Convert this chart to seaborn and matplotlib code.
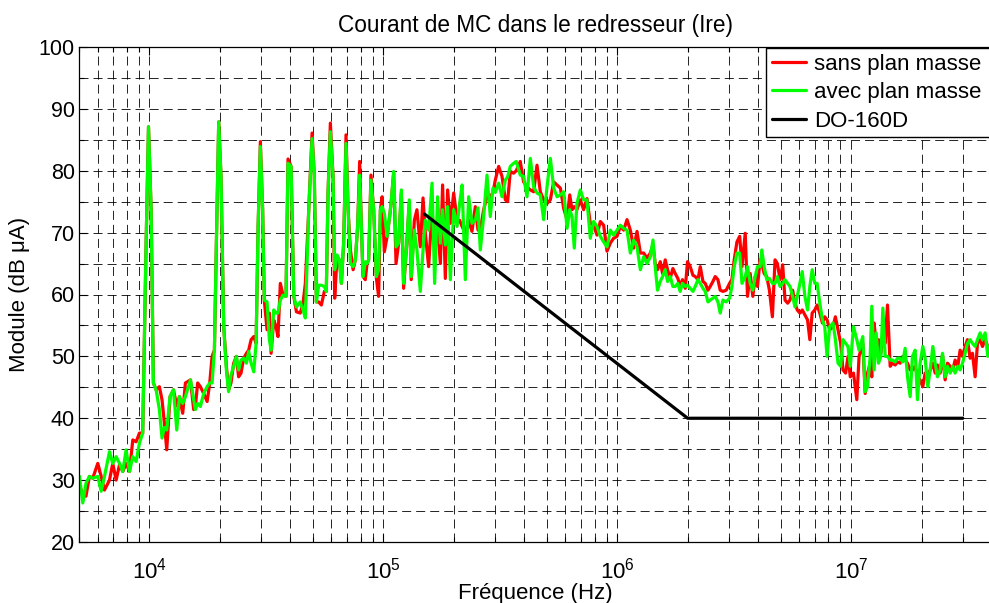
import numpy as np
import pandas as pd
import matplotlib
matplotlib.use("Agg")
import matplotlib.pyplot as plt
import seaborn as sns
from matplotlib.ticker import MultipleLocator, LogLocator, NullFormatter

# ---------------- data ----------------
freq_hz = [
    5024, 5190, 5355, 5540, 5725, 6015, 6220, 6425, 6750, 6970,
    7205, 7450, 7695, 7950, 8220, 8490, 8775, 9065, 9360, 9680,
    9910, 10170, 10400, 10680, 11030, 11320, 11590, 11860, 12250, 12670,
    13090, 13430, 13880, 14250,
    14980, 15460, 15730, 16080, 16510, 17060, 17650, 18110, 18530, 18960,
    19330, 19780, 20230, 20780, 21330, 21800, 22320, 22920, 23530, 24060,
    24640, 25290, 25990, 26570, 27210, 27930, 28580, 29150, 29810, 30480,
    30980, 31830, 32570, 33130, 33990, 34770, 35450, 36280, 37250, 38360,
    39130, 40330, 41410, 42520,
    44130, 45370, 46410, 47990, 49590, 50700, 51730, 52930, 54340, 55950,
    57040, 58020, 59370, 60950, 61940, 63420, 64880, 66180, 67660, 69260,
    70690, 72310, 74270, 75930, 77640, 79210, 80560, 81880, 83740, 85170,
    86540, 88540, 90920, 93410, 95470, 97140, 98790, 101000, 103800, 106400,
    107900, 110700, 113300, 116300, 119400, 122100, 125400, 129100,
    131600, 135700, 139200, 143900, 147800, 151100, 156200, 161500, 165700, 170600,
    175300, 179200, 184100, 188300, 193400, 199900, 206600, 211900, 217100, 224100,
    231600, 239300, 247300, 253900, 259800, 268400, 277400, 286600, 294300, 301100,
    311200, 321600, 332300, 339900, 348900, 360600, 369900,
    384900, 397900, 411300, 425000, 439100, 453800, 469000, 484600, 500900, 517600,
    534900, 552800, 571200, 590300, 610100, 626300, 640600, 655000, 672400, 695000,
    718100, 742100, 766900, 792500, 819000, 846400, 874700, 903900, 934100, 965200,
    997600, 1030900, 1065300, 1100900,
    1137600, 1175600, 1214800, 1255300, 1297200, 1340400, 1385100, 1421700, 1453000, 1486400,
    1527000, 1562000, 1604000, 1641000, 1684000, 1729000, 1769000, 1816000, 1857000, 1900000,
    1953000, 1997000, 2051000, 2107000, 2155000, 2213000, 2264000, 2325000, 2377000, 2442000,
    2497000, 2564000, 2623000, 2694000, 2755000, 2830000, 2923000, 3021000, 3091000, 3162000,
    3248000, 3337000, 3414000,
    3524000, 3605000, 3700000, 3798000, 3886000, 3976000, 4081000, 4149000, 4245000, 4357000,
    4472000, 4605000, 4727000, 4837000, 4965000, 5096000, 5214000, 5351000, 5476000, 5621000,
    5750000, 5883000, 6038000, 6178000, 6341000, 6508000, 6658000, 6812000, 6991000, 7153000,
    7341000, 7535000, 7709000, 7887000, 8095000, 8367000, 8561000, 8787000, 9019000, 9228000,
    9471000, 9690000, 9914000, 10230000, 10570000, 10810000,
    11210000, 11480000, 11750000, 12060000, 12250000, 12530000, 12790000, 13090000, 13400000, 13660000,
    13970000, 14300000, 14680000, 15020000, 15420000, 15780000, 16190000, 16620000, 17010000, 17410000,
    17870000, 18280000, 18770000, 19200000, 19710000, 20240000, 20710000, 21260000, 21760000, 22340000,
    22860000, 23390000, 24010000, 24570000, 25220000, 25810000, 26490000, 27190000, 27820000, 28560000,
    29230000, 29910000, 30700000, 31410000, 32250000, 33000000, 33880000, 34670000, 35590000, 36420000,
    37390000, 38380000, 40000000,
]

sans_plan_masse = [
    29.0, 27.9, 27.4, 30.6, 30.3, 32.7, 30.6, 28.4, 30.0, 32.7,
    30.0, 32.5, 31.4, 32.7, 31.4, 36.5, 36.2, 37.6, 37.6, 68.3,
    87.1, 73.7, 45.7, 44.6, 45.1, 43.0, 39.2, 34.9, 43.5, 44.6,
    42.0, 43.5, 40.8, 45.7,
    46.2, 41.4, 42.0, 45.7, 45.1, 44.0, 42.7, 45.7, 50.0, 51.0,
    68.3, 87.9, 79.1, 54.8, 48.4, 44.6, 45.7, 48.9, 50.0, 46.7,
    47.3, 49.7, 50.5, 51.0, 52.7, 53.2, 52.1, 71.0, 84.7, 73.7,
    59.1, 54.3, 57.0, 50.5, 55.9, 54.8, 53.2, 61.8, 59.9, 59.7,
    81.9, 80.7, 59.7, 57.2,
    57.0, 58.6, 61.8, 73.7, 86.1, 79.1, 58.8, 58.8, 58.3, 60.5,
    60.5, 76.4, 87.7, 79.1, 59.4, 66.1, 65.6, 61.8, 68.3, 85.8,
    73.7, 67.2, 64.0, 65.6, 71.0, 81.5, 71.0, 62.9, 62.4, 65.0,
    65.6, 79.3, 73.7, 62.6, 59.7, 73.7, 75.8, 66.9, 69.4, 72.6,
    74.7, 79.6, 65.0, 68.3, 76.4, 61.0, 67.2, 74.7,
    62.4, 72.0, 73.7, 67.7, 75.6, 70.0, 64.5, 73.7, 68.0, 71.0,
    65.0, 77.7, 62.6, 76.9, 71.5, 76.4, 72.0, 72.0, 71.0, 69.9,
    72.0, 70.2, 74.2, 70.4, 70.4, 73.7, 75.8, 75.8, 76.5, 78.5,
    80.7, 79.1, 75.3, 75.0, 79.9, 79.6, 80.0,
    81.5, 78.2, 77.4, 76.9, 76.6, 80.9, 76.6, 75.3, 74.7, 75.3,
    78.2, 77.7, 77.2, 73.9, 72.1, 76.1, 73.7, 74.2, 73.7, 75.3,
    73.7, 75.5, 71.5, 71.2, 69.6, 71.8, 71.2, 67.0, 68.3, 69.1,
    69.4, 71.0, 70.4, 72.1,
    70.4, 67.5, 70.2, 66.7, 66.7, 65.9, 66.7, 68.0, 65.0, 64.0,
    65.3, 63.4, 65.6, 64.0, 62.6, 64.2, 63.4, 62.6, 61.3, 62.4,
    61.0, 65.3, 64.5, 63.1, 62.9, 62.4, 64.5, 62.1, 61.8, 60.7,
    61.3, 62.1, 62.9, 62.4, 60.7, 60.5, 60.7, 61.8, 62.4, 65.6,
    68.5, 69.4, 64.5,
    69.9, 59.7, 63.4, 59.7, 62.9, 61.3, 65.6, 65.0, 63.4, 62.9,
    60.7, 56.4, 65.6, 65.0, 62.4, 64.8, 59.1, 58.6, 59.1, 60.7,
    58.6, 57.5, 57.0, 57.5, 56.7, 55.9, 52.7, 57.0, 57.5, 58.3,
    57.0, 55.4, 56.4, 55.9, 54.3, 54.8, 56.4, 54.3, 52.1, 47.8,
    47.3, 50.0, 46.7, 47.3, 43.0, 50.0,
    52.1, 44.0, 47.3, 48.9, 46.7, 55.4, 52.1, 52.7, 50.5, 53.2,
    52.1, 58.3, 48.4, 48.9, 48.6, 49.1, 48.9, 50.0, 49.4, 48.9,
    47.8, 47.8, 48.4, 46.7, 46.2, 45.1, 47.3, 46.7, 47.8, 48.9,
    47.3, 48.6, 47.3, 50.2, 46.2, 48.9, 48.4, 47.8, 49.4, 48.4,
    51.0, 50.0, 51.6, 52.7, 49.7, 50.5, 46.7, 52.1, 52.7, 51.6,
    52.7, 51.6, 50.0,
]

avec_plan_masse = [
    30.6, 26.3, 29.5, 30.6, 30.3, 30.6, 28.2, 30.6, 34.6, 32.7,
    33.8, 32.7, 31.4, 34.9, 31.4, 33.8, 33.0, 36.0, 37.6, 68.3,
    87.1, 73.7, 45.7, 44.6, 41.4, 36.8, 38.5, 38.1, 43.5, 44.6,
    38.1, 43.5, 42.4, 43.5,
    46.2, 43.0, 41.4, 42.4, 41.9, 44.0, 45.1, 45.7, 45.7, 51.0,
    68.3, 87.9, 79.1, 54.8, 47.8, 44.3, 47.0, 48.4, 50.0, 47.8,
    49.4, 49.7, 48.9, 50.8, 48.9, 47.5, 52.1, 71.0, 83.9, 73.7,
    59.1, 58.8, 52.7, 51.0, 57.5, 57.0, 57.0, 59.1, 59.9, 59.7,
    81.2, 80.7, 59.7, 58.0,
    58.8, 57.5, 56.2, 73.7, 85.2, 79.1, 58.8, 61.5, 61.5, 61.3,
    60.5, 76.4, 86.3, 79.1, 64.0, 66.4, 65.6, 61.8, 68.3, 84.4,
    73.7, 65.0, 64.5, 65.6, 71.0, 79.3, 71.0, 62.9, 65.3, 65.0,
    65.6, 78.5, 73.7, 62.9, 64.0, 73.7, 74.2, 73.1, 69.4, 72.6,
    74.7, 79.9, 67.7, 68.3, 76.9, 61.8, 67.2, 75.3,
    62.9, 70.4, 67.2, 60.5, 67.2, 72.0, 70.4, 78.0, 61.8, 75.8,
    68.3, 73.7, 68.0, 74.2, 62.4, 73.7, 71.0, 74.7, 77.7, 62.4,
    75.8, 71.5, 72.0, 74.0, 67.2, 72.6, 79.3, 72.6, 77.2, 76.5,
    78.0, 75.8, 78.5, 79.0, 80.7, 81.2, 81.5,
    79.3, 79.1, 75.8, 82.0, 77.4, 76.4, 76.1, 72.1, 77.4, 82.0,
    77.2, 75.8, 76.1, 76.6, 70.7, 73.7, 72.6, 67.5, 74.7, 76.9,
    75.3, 75.3, 69.1, 71.8, 71.0, 69.4, 68.5, 67.7, 70.4, 69.6,
    70.4, 71.2, 70.7, 70.4,
    66.7, 68.8, 67.7, 64.0, 66.1, 65.0, 66.1, 68.8, 64.5, 60.7,
    62.1, 62.9, 64.0, 62.1, 62.9, 61.3, 61.3, 61.8, 60.5, 61.8,
    61.3, 61.5, 61.0, 60.5, 61.3, 62.4, 61.8, 61.0, 60.5, 58.8,
    59.1, 59.4, 59.7, 58.8, 57.0, 59.1, 58.8, 59.4, 61.3, 64.5,
    66.7, 66.7, 61.8,
    62.9, 64.5, 61.8, 60.7, 62.9, 64.5, 64.5, 67.2, 64.5, 62.4,
    62.6, 61.8, 61.8, 62.9, 61.3, 61.8, 62.4, 61.8, 61.3, 59.7,
    58.0, 59.7, 61.8, 63.7, 59.7, 57.5, 61.3, 64.0, 61.8, 61.8,
    58.6, 55.9, 54.8, 50.0, 54.8, 55.4, 52.7, 48.9, 48.4, 52.7,
    52.1, 51.6, 48.4, 54.8, 52.7, 51.0,
    53.2, 44.3, 45.1, 50.0, 58.1, 47.8, 53.8, 48.9, 50.0, 57.8,
    50.0, 50.0, 49.4, 49.4, 49.1, 49.7, 49.7, 49.1, 51.3, 46.7,
    43.5, 50.0, 51.0, 43.0, 48.9, 51.6, 49.7, 45.1, 47.8, 51.6,
    48.9, 46.7, 47.8, 50.5, 46.7, 48.4, 47.3, 48.4, 47.3, 48.4,
    47.8, 48.9, 50.5, 52.1, 52.7, 52.1, 51.6, 52.7, 53.8, 52.7,
    53.8, 50.0, 53.5,
]

do160d_freq = [150e3, 2e6, 30e6]
do160d_limit = [73.0, 40.0, 40.0]

labels = ["sans plan masse", "avec plan masse", "DO-160D"]
colors = ["#ff0000", "#00ff00", "#000000"]

# ---------------- figure ----------------
sns.set_style("ticks")
plt.rcParams.update({
    "font.family": ["Liberation Sans", "DejaVu Sans"],
    "mathtext.fontset": "custom",
    "mathtext.rm": "Liberation Sans",
    "mathtext.it": "Liberation Sans:italic",
    "mathtext.bf": "Liberation Sans:bold",
    "lines.scale_dashes": False,
    "axes.edgecolor": "black",
    "xtick.color": "black",
    "ytick.color": "black",
    "text.color": "black",
    "axes.labelcolor": "black",
})

W, H = 989, 603
fig = plt.figure(figsize=(W / 100, H / 100), dpi=100)
# the axes runs just past the right border of the picture (cropped like the reference)
ax_left, ax_right, ax_top, ax_bottom = 79, 992, 47, 542
ax = fig.add_axes([ax_left / W, 1 - ax_bottom / H,
                   (ax_right - ax_left) / W, (ax_bottom - ax_top) / H])

df_red = pd.DataFrame({"f": freq_hz, "dB": sans_plan_masse})
df_green = pd.DataFrame({"f": freq_hz, "dB": avec_plan_masse})
df_lim = pd.DataFrame({"f": do160d_freq, "dB": do160d_limit})

for d, lab, c in zip([df_red, df_green, df_lim], labels, colors):
    sns.lineplot(data=d, x="f", y="dB", ax=ax, color=c, linewidth=2.3,
                 label=lab, estimator=None, sort=False)

ax.set_xscale("log")
ax.set_xlim(5e3, 4e7)
ax.set_ylim(20, 100)
ax.set_yticks(np.arange(20, 101, 10))
ax.yaxis.set_minor_locator(MultipleLocator(5))
ax.xaxis.set_major_locator(LogLocator(base=10, numticks=20))
ax.xaxis.set_minor_locator(LogLocator(base=10, subs=np.arange(2, 10), numticks=60))
ax.xaxis.set_minor_formatter(NullFormatter())

ax.grid(which="both", color="black", linestyle=(0, (6.5, 3.6)), linewidth=0.6)
ax.tick_params(which="both", direction="in", top=True, right=False)
ax.tick_params(which="major", length=6, width=0.8, labelsize=15.5, pad=3)
ax.tick_params(axis="x", which="major", pad=11, labelsize=16)
ax.tick_params(which="minor", length=3.5, width=0.8)
for name, s in ax.spines.items():
    s.set_linewidth(0.9)
    s.set_color("black")
    s.set_visible(name != "right")

ax.set_title("Courant de MC dans le redresseur (Ire)", fontsize=16.3, pad=10.5)
ax.set_xlabel("Fréquence (Hz)", fontsize=16)
ax.xaxis.set_label_coords(0.5, (ax_bottom - 582.5) / (ax_bottom - ax_top))
ax.set_ylabel("Module (dB μA)", fontsize=16, labelpad=6)

leg = ax.legend(loc="upper left",
                bbox_to_anchor=(766 / W, 1 - 48 / H, 240 / W, 0.0),
                bbox_transform=fig.transFigure, mode="expand", borderaxespad=0,
                fontsize=16, frameon=True, fancybox=False, edgecolor="black",
                framealpha=1, handlelength=1.55, handletextpad=0.36,
                borderpad=0.25, labelspacing=0.34)
leg.get_frame().set_linewidth(1.0)

fig.savefig("out.png", dpi=100)
